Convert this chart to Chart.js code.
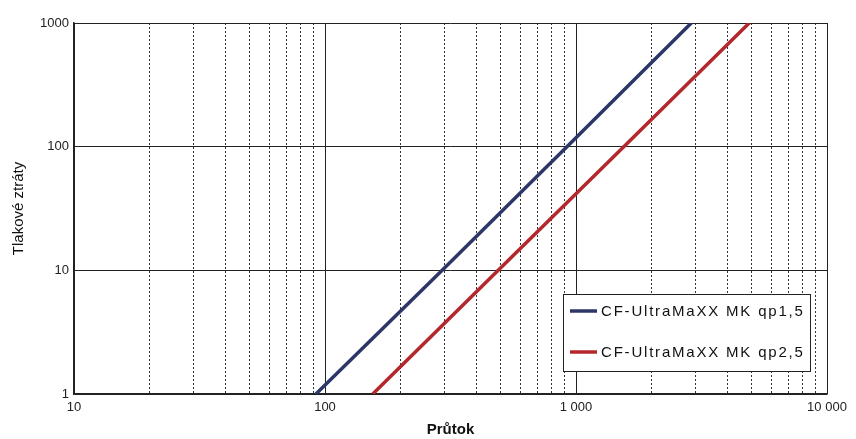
<!DOCTYPE html>
<html>
<head>
<meta charset="utf-8">
<script src="https://cdn.jsdelivr.net/npm/chart.js@4/dist/chart.umd.min.js"></script>
<style>
  html, body { margin: 0; padding: 0; background: #fff; }
  #wrap { width: 856px; height: 439px; position: relative; }
</style>
</head>
<body>
<div id="wrap"><canvas id="chart"></canvas></div>
<script>
  // values (log-log, straight lines)
  const seriesNames = ["CF-UltraMaXX MK qp1,5", "CF-UltraMaXX MK qp2,5"];
  const flowQp15 = [92, 293, 920, 2880];
  const lossQp15 = [1, 10, 100, 1000];
  const flowQp25 = [155, 490, 1550, 4900];
  const lossQp25 = [1, 10, 100, 1000];

  const xMajor = [10, 100, 1000, 10000];
  const xTickLabels = ["10", "100", "1 000", "10 000"];
  const yMajor = [1, 10, 100, 1000];
  const yTickLabels = ["1", "10", "100", "1000"];

  const NAVY = "#2c3768";
  const RED = "#b3272d";
  const FONT = "'Liberation Sans', Arial, sans-serif";

  function pts(xs, ys) {
    return xs.map((x, i) => ({ x, y: ys[i] }));
  }

  // majors plus 2..9 in every decade, for the dotted grid
  function logTicks(majors) {
    const out = [];
    majors.forEach((m, i) => {
      out.push({ value: m, major: true });
      if (i < majors.length - 1) {
        for (let k = 2; k <= 9; k++) out.push({ value: m * k, major: false });
      }
    });
    return out;
  }

  const boxLegend = {
    id: "boxLegend",
    afterDraw(chart, args, opts) {
      const { ctx, chartArea } = chart;
      const left = chartArea.right - opts.offsetRight;
      const top = chartArea.top + opts.offsetTop;
      ctx.save();
      ctx.fillStyle = "#fff";
      ctx.fillRect(left, top, opts.width, opts.height);
      ctx.strokeStyle = "#222";
      ctx.lineWidth = 1;
      ctx.strokeRect(left + 0.5, top + 0.5, opts.width, opts.height);
      ctx.font = "15px " + FONT;
      ctx.letterSpacing = "1.8px";
      ctx.textBaseline = "middle";
      chart.data.datasets.forEach((ds, i) => {
        const y = top + opts.firstRow + i * opts.rowGap;
        ctx.strokeStyle = ds.borderColor;
        ctx.lineWidth = 3.5;
        ctx.beginPath();
        ctx.moveTo(left + 7, y);
        ctx.lineTo(left + 34, y);
        ctx.stroke();
        ctx.fillStyle = "#111";
        ctx.fillText(ds.label, left + 38, y + 1);
      });
      ctx.restore();
    }
  };

  new Chart(document.getElementById("chart"), {
    type: "scatter",
    data: {
      datasets: [
        {
          label: seriesNames[0],
          data: pts(flowQp15, lossQp15),
          showLine: true,
          borderColor: NAVY,
          backgroundColor: NAVY,
          borderWidth: 3.5,
          pointRadius: 0
        },
        {
          label: seriesNames[1],
          data: pts(flowQp25, lossQp25),
          showLine: true,
          borderColor: RED,
          backgroundColor: RED,
          borderWidth: 3.5,
          pointRadius: 0
        }
      ]
    },
    options: {
      responsive: true,
      maintainAspectRatio: false,
      animation: false,
      layout: { padding: { top: 23, right: 29, left: 0, bottom: 0 } },
      plugins: {
        legend: { display: false },
        tooltip: { enabled: false },
        boxLegend: { offsetRight: 264, offsetTop: 271, width: 247, height: 77, firstRow: 17, rowGap: 41 }
      },
      scales: {
        x: {
          type: "logarithmic",
          min: 10,
          max: 10000,
          afterBuildTicks: (s) => { s.ticks = logTicks(xMajor); },
          afterFit: (s) => { s.height = 45; },
          ticks: {
            autoSkip: false,
            maxRotation: 0,
            padding: 6,
            color: "#222",
            font: { family: FONT, size: 13 },
            callback: (v) => {
              const i = xMajor.indexOf(v);
              return i >= 0 ? xTickLabels[i] : "";
            }
          },
          grid: {
            drawTicks: false,
            color: (c) => (c.tick && c.tick.major ? "#222" : "#333"),
            lineWidth: 1
          },
          border: {
            color: "#222",
            width: 1.5,
            dash: (c) => (c.tick && !c.tick.major ? [2, 2] : [])
          },
          title: {
            display: true,
            text: "Průtok",
            color: "#111",
            font: { family: FONT, size: 15, weight: "bold" },
            padding: { top: 0, bottom: 0 }
          }
        },
        y: {
          type: "logarithmic",
          min: 1,
          max: 1000,
          afterBuildTicks: (s) => { s.ticks = yMajor.map((v) => ({ value: v, major: true })); },
          afterFit: (s) => { s.width = 74; },
          ticks: {
            autoSkip: false,
            padding: 5,
            color: "#222",
            font: { family: FONT, size: 13 },
            callback: (v) => {
              const i = yMajor.indexOf(v);
              return i >= 0 ? yTickLabels[i] : "";
            }
          },
          grid: { drawTicks: false, color: "#222", lineWidth: 1 },
          border: { color: "#222", width: 1.5 },
          title: {
            display: true,
            text: "Tlakové ztráty",
            color: "#111",
            font: { family: FONT, size: 15 },
            padding: { top: 10, bottom: 0 }
          }
        }
      }
    },
    plugins: [boxLegend]
  });
</script>
</body>
</html>
